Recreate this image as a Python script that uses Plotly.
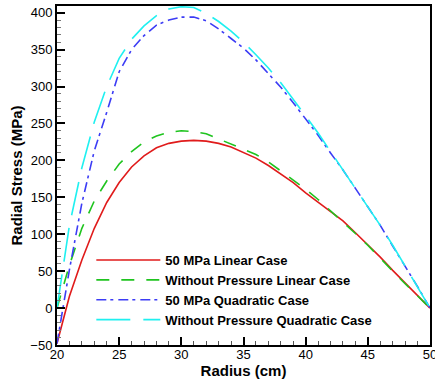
import plotly.graph_objects as go

radius = [20, 20.5, 21, 22, 23, 24, 25, 26, 27, 28, 29, 30, 31, 32, 33, 34, 35,
          36, 37, 38, 39, 40, 41, 42, 43, 44, 45, 46, 47, 48, 49, 50]

linear_50mpa = [-48, -14, 16, 65, 108, 143, 170, 191, 206, 217, 223, 226, 227, 226, 223, 218, 211,
                203, 193, 182, 170, 156, 143, 130, 118, 102, 86, 69, 51, 34, 17, 0]
linear_nopress = [0, 30, 58, 108, 145, 172, 195, 212, 225, 233, 238, 240, 239, 236, 229, 223, 216,
                  208, 198, 186, 173, 161, 147, 132, 117, 101, 85, 67, 50, 33, 16, 0]
quad_50mpa = [-48, 2, 52, 142, 213, 265, 320, 350, 369, 383, 390, 394, 394, 389, 378, 365, 352,
              336, 318, 299, 278, 256, 234, 210, 187, 162, 137, 112, 84, 57, 29, 0]
quad_nopress = [0, 55, 112, 190, 252, 300, 338, 364, 382, 396, 405, 408, 407, 399, 388, 375, 360,
                343, 325, 305, 283, 260, 237, 212, 188, 163, 138, 112, 85, 57, 29, 0]

x_ticks = [20, 25, 30, 35, 40, 45, 50]

names = ["50 MPa Linear Case", "Without Pressure Linear Case",
         "50 MPa Quadratic Case", "Without Pressure Quadratic Case"]

FONT = "Liberation Sans, Arial, sans-serif"

fig = go.Figure()
styles = [
    (linear_50mpa, "#e01b1b", "solid", 1.6),
    (linear_nopress, "#1fc41f", "13px,12px", 1.6),
    (quad_50mpa, "#3c3cf5", "10px,4px,3px,5px", 1.6),
    (quad_nopress, "#1ff0f0", "34px,13px", 1.6),
]
for (vals, col, dash, w), nm in zip(styles, names):
    fig.add_trace(go.Scatter(x=radius, y=vals, mode="lines", name=nm,
                             line=dict(color=col, dash=dash, width=w)))

axis_common = dict(
    showline=True, linecolor="black", linewidth=2, mirror=True,
    ticks="inside", tickcolor="black", tickwidth=1.5, ticklen=8,
    showgrid=False, zeroline=False, ticklabeloverflow="allow", automargin=False,
    tickfont=dict(family=FONT, size=13, color="black"),
)

fig.update_xaxes(range=[20, 50], tickmode="array", tickvals=x_ticks,
                 ticktext=[str(v) for v in x_ticks],
                 minor=dict(dtick=1, tick0=20, ticks="inside", ticklen=4, tickcolor="#555", tickwidth=1),
                 title=dict(text="Radius (cm)", font=dict(family=FONT, size=15, color="black", weight="bold"),
                            standoff=2),
                 ticklabelstandoff=-4,
                 **axis_common)
fig.update_yaxes(range=[-50, 409], dtick=50, tick0=0,
                 minor=dict(dtick=10, ticks="inside", ticklen=4, tickcolor="#777", tickwidth=1),
                 title=dict(text="Radial Stress (MPa)", font=dict(family=FONT, size=15, color="black", weight="bold"),
                            standoff=4),
                 **axis_common)

fig.update_layout(
    width=435, height=379,
    margin=dict(l=57, r=5, t=6, b=34),
    paper_bgcolor="white", plot_bgcolor="white",
    showlegend=True,
    legend=dict(x=0.092, y=0.295, xanchor="left", yanchor="top",
                bgcolor="rgba(0,0,0,0)", borderwidth=0, itemwidth=64,
                font=dict(family=FONT, size=13, color="black", weight="bold"),
                tracegroupgap=0),
)

fig.write_html("out.html", config={"displayModeBar": False},
               post_script="document.body.style.margin='0';document.body.style.overflow='hidden';")
